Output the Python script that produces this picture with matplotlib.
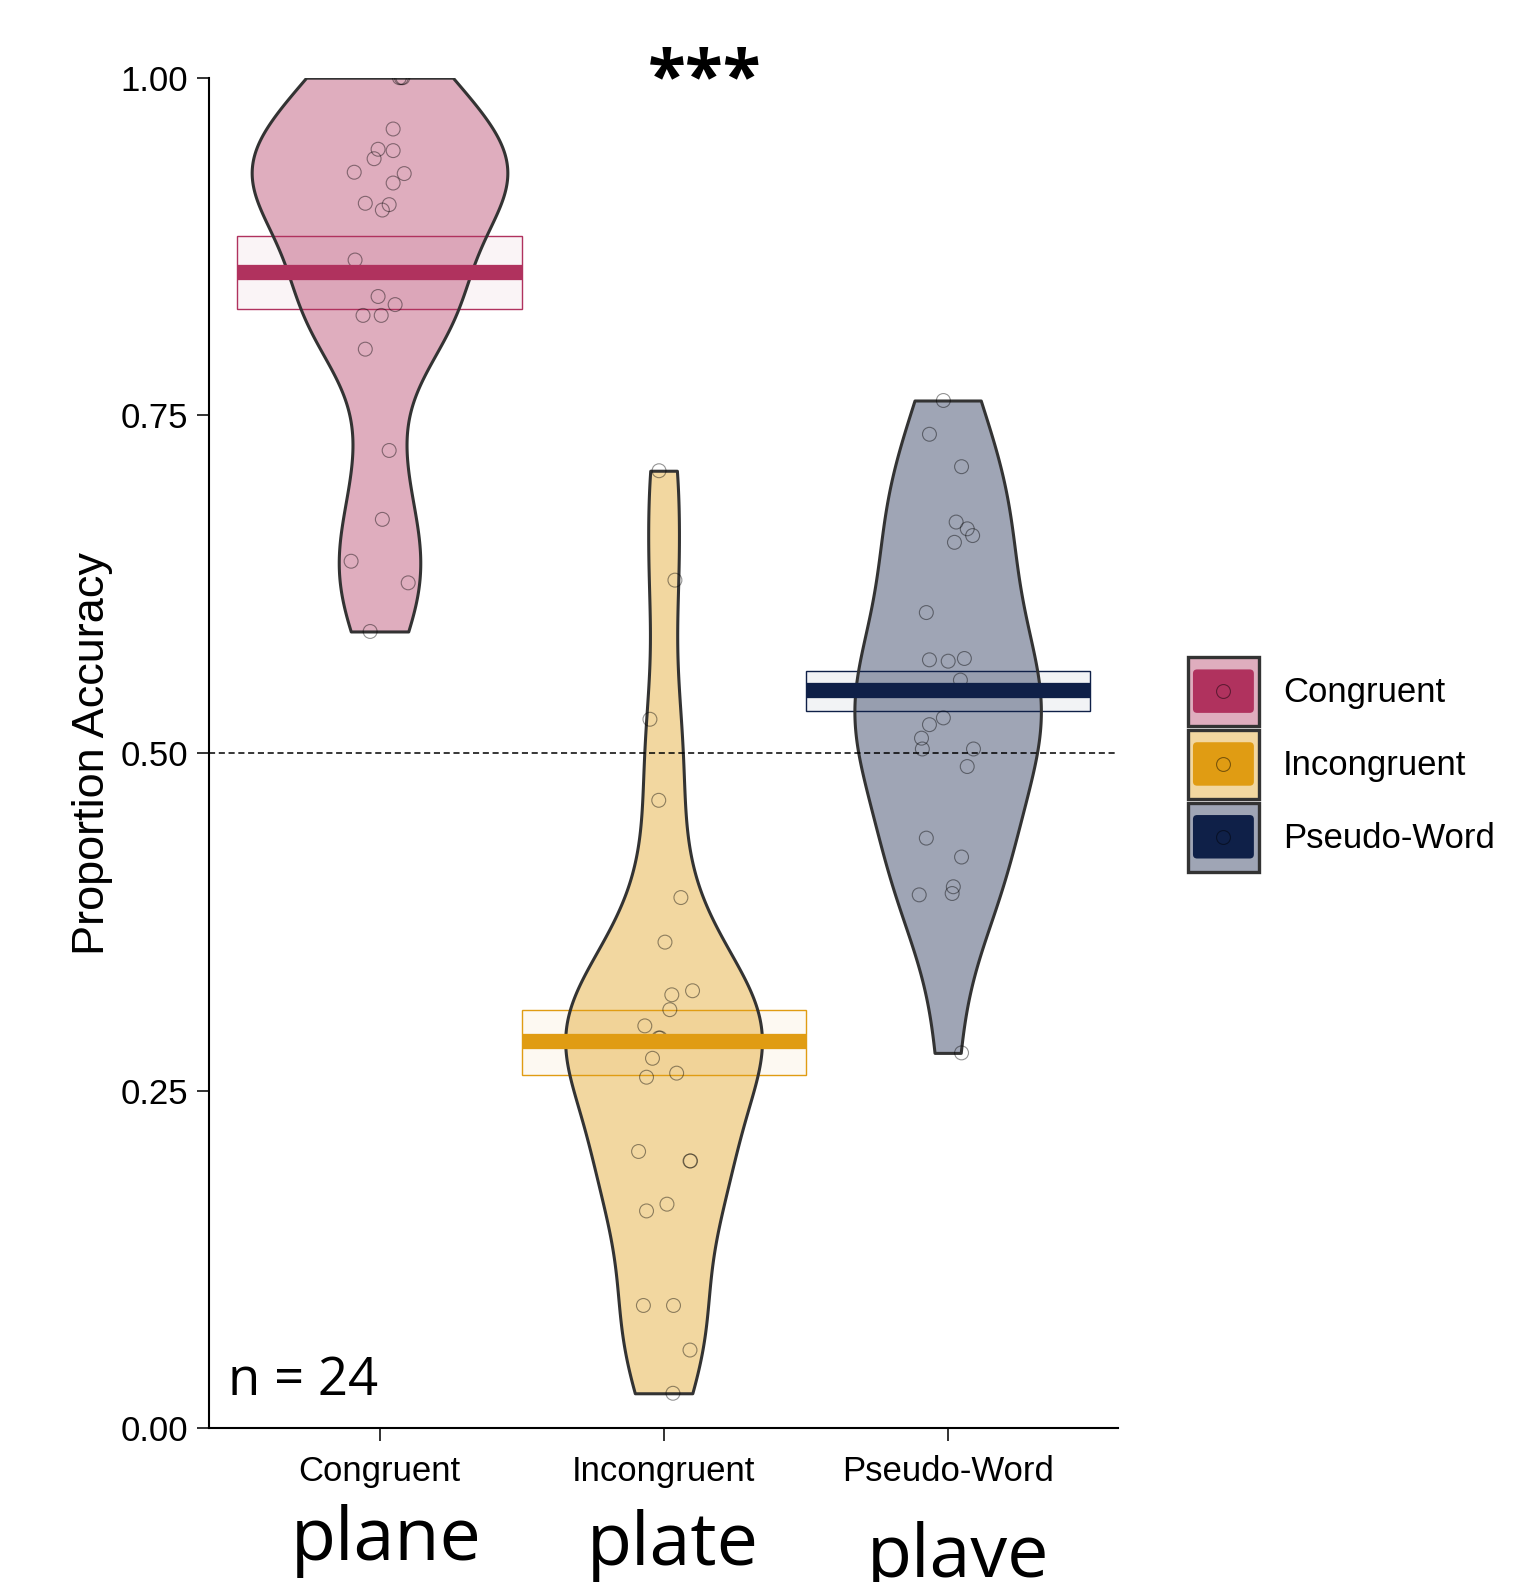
import numpy as np
import matplotlib
matplotlib.use("Agg")
import matplotlib.pyplot as plt
from matplotlib import cbook, mlab
from matplotlib.colors import to_rgba
from matplotlib.legend_handler import HandlerBase
from matplotlib.lines import Line2D
from matplotlib.patches import FancyBboxPatch, Rectangle
from matplotlib.ticker import FormatStrFormatter
from matplotlib.transforms import blended_transform_factory

plt.rcParams["font.family"] = ["Liberation Sans", "DejaVu Sans"]

conditions = ["Congruent", "Incongruent", "Pseudo-Word"]
words = ["plane", "plate", "plave"]
main_colors = ["#B0325E", "#E09C13", "#0F2048"]

# proportion accuracy per participant (n = 24), with the x jitter of each dot
congruent_acc = [1.0, 1.0, 1.0, 0.962, 0.947, 0.946, 0.940, 0.930, 0.929,
                 0.922, 0.907, 0.906, 0.902, 0.865, 0.838, 0.832, 0.824,
                 0.824, 0.799, 0.724, 0.673, 0.642, 0.626, 0.590]
congruent_jit = [0.077, 0.070, 0.082, 0.048, -0.005, 0.048, -0.019, -0.089,
                 0.087, 0.048, -0.050, 0.034, 0.010, -0.086, -0.005, 0.055,
                 -0.058, 0.006, -0.050, 0.034, 0.010, -0.100, 0.101, -0.033]

incongruent_acc = [0.709, 0.628, 0.525, 0.465, 0.393, 0.360, 0.324, 0.321,
                   0.310, 0.298, 0.289, 0.289, 0.274, 0.260, 0.263, 0.205,
                   0.198, 0.198, 0.161, 0.166, 0.091, 0.091, 0.058, 0.026]
incongruent_jit = [-0.016, 0.040, -0.048, -0.017, 0.061, 0.005, 0.102, 0.029,
                   0.022, -0.066, -0.017, -0.012, -0.039, -0.060, 0.046,
                   -0.088, 0.093, 0.095, -0.060, 0.012, -0.071, 0.035, 0.093,
                   0.033]

pseudo_acc = [0.761, 0.736, 0.712, 0.671, 0.666, 0.661, 0.656, 0.604, 0.569,
              0.568, 0.570, 0.554, 0.526, 0.521, 0.511, 0.503, 0.503, 0.490,
              0.437, 0.423, 0.395, 0.401, 0.396, 0.278]
pseudo_jit = [-0.015, -0.064, 0.049, 0.030, 0.069, 0.088, 0.024, -0.075,
              -0.064, 0.002, 0.059, 0.045, -0.015, -0.064, -0.092, -0.089,
              0.091, 0.069, -0.075, 0.049, -0.100, 0.020, 0.016, 0.049]

means = [0.856, 0.287, 0.547]
hdi_low = [0.829, 0.262, 0.531]
hdi_high = [0.883, 0.310, 0.561]

accuracy = [congruent_acc, incongruent_acc, pseudo_acc]
jitter = [congruent_jit, incongruent_jit, pseudo_jit]
positions = np.arange(1, len(conditions) + 1)


def nrd0_factor(kde):
    # R's bw.nrd0, expressed as a factor of the sample sd
    x = kde.dataset.ravel()
    sd = x.std(ddof=1)
    iqr = np.subtract(*np.percentile(x, [75, 25]))
    bw = 0.9 * min(sd, iqr / 1.34) * len(x) ** -0.2
    return bw / sd


def kde_method(x, coords):
    return mlab.GaussianKDE(x, bw_method=nrd0_factor).evaluate(coords)


class BeanKey:
    def __init__(self, color):
        self.color = color


class BeanKeyHandler(HandlerBase):
    def create_artists(self, legend, orig_handle, xdescent, ydescent,
                       width, height, fontsize, trans):
        x0, y0 = -xdescent, -ydescent
        c = orig_handle.color
        outer = Rectangle((x0, y0), width, height,
                          facecolor=to_rgba(c, 0.4), edgecolor="#333333",
                          linewidth=2.4, transform=trans)
        inner = FancyBboxPatch((x0 + 0.07 * width, y0 + 0.19 * height),
                               0.86 * width, 0.63 * height,
                               boxstyle="round,pad=0,rounding_size=3",
                               facecolor=c, edgecolor="none", transform=trans)
        dot = Line2D([x0 + width / 2], [y0 + height / 2], marker="o",
                     markersize=10, markerfacecolor="none",
                     markeredgecolor=(0, 0, 0, 0.45), markeredgewidth=0.8,
                     linestyle="none", transform=trans)
        return [outer, inner, dot]


fig = plt.figure(figsize=(15.15, 15.82), dpi=100)
ax = fig.add_axes([0.138, 0.0971, 0.600, 0.8538])

# inference bands
ax.bar(positions, np.subtract(hdi_high, hdi_low), bottom=hdi_low, width=1.0,
       color=[to_rgba(c, 0.05) for c in main_colors],
       edgecolor=main_colors, linewidth=1.0, zorder=1)

# beans
vpstats = cbook.violin_stats(accuracy, kde_method, points=300)
peaks = [s["vals"].max() for s in vpstats]
widths = [0.9 * p / max(peaks) for p in peaks]
parts = ax.violin(vpstats, positions=positions, widths=widths,
                  showmeans=False, showextrema=False, showmedians=False)
for body, c in zip(parts["bodies"], main_colors):
    body.set_facecolor(to_rgba(c, 0.4))
    body.set_edgecolor("#333333")
    body.set_linewidth(2.2)
    body.set_alpha(None)
    body.set_zorder(2)

ax.axhline(0.5, color="k", linewidth=1.1, linestyle=(0, (4, 2.4)), zorder=2.5)

# raw data
for pos, acc, jit in zip(positions, accuracy, jitter):
    ax.scatter(pos + np.asarray(jit), acc, s=100, facecolors="none",
               edgecolors=[(0, 0, 0, 0.42)], linewidths=0.8, zorder=3)

# means
ax.hlines(means, positions - 0.5, positions + 0.5, colors=main_colors,
          linewidth=11, zorder=4)

ax.set_xlim(0.4, 3.6)
ax.set_ylim(0, 1)
ax.set_xticks(positions)
ax.set_xticklabels(conditions)
ax.set_yticks([0, 0.25, 0.5, 0.75, 1.0])
ax.yaxis.set_major_formatter(FormatStrFormatter("%.2f"))
ax.tick_params(labelsize=25, length=9, width=1.4, color="#333333", pad=6)
ax.tick_params(axis="x", pad=10)
ax.set_ylabel("Proportion Accuracy", fontsize=32.5)
ax.yaxis.set_label_coords(-0.106, 0.5)
for side in ["top", "right"]:
    ax.spines[side].set_visible(False)
for side in ["left", "bottom"]:
    ax.spines[side].set_linewidth(1.5)

ax.text(2.145, 0.997, "***", fontsize=50, fontweight="bold",
        family=["Open Sans", "DejaVu Sans"], ha="center", va="center",
        clip_on=False)
ax.text(0.468, 0.0247, "n = 24", fontsize=38,
        family=["Open Sans", "DejaVu Sans"], ha="left", va="baseline")

# word under each condition
word_tr = blended_transform_factory(ax.transData, fig.transFigure)
word_x = [1.023, 2.033, 3.038]
word_y = [0.0139, 0.0107, 0.0032]
for x, y, w in zip(word_x, word_y, words):
    ax.text(x, y, w, fontsize=53, family=["Open Sans", "DejaVu Sans"],
            ha="center", va="baseline", transform=word_tr, clip_on=False)

fig.legend([BeanKey(c) for c in main_colors], conditions,
           handler_map={BeanKey: BeanKeyHandler()},
           loc="upper left", bbox_to_anchor=(1188 / 1515, 1 - 657 / 1582),
           frameon=False, fontsize=25, borderpad=0, borderaxespad=0,
           handlelength=2.04, handleheight=2.68, labelspacing=0.11,
           handletextpad=0.69)

fig.savefig("out.png", dpi=100)
